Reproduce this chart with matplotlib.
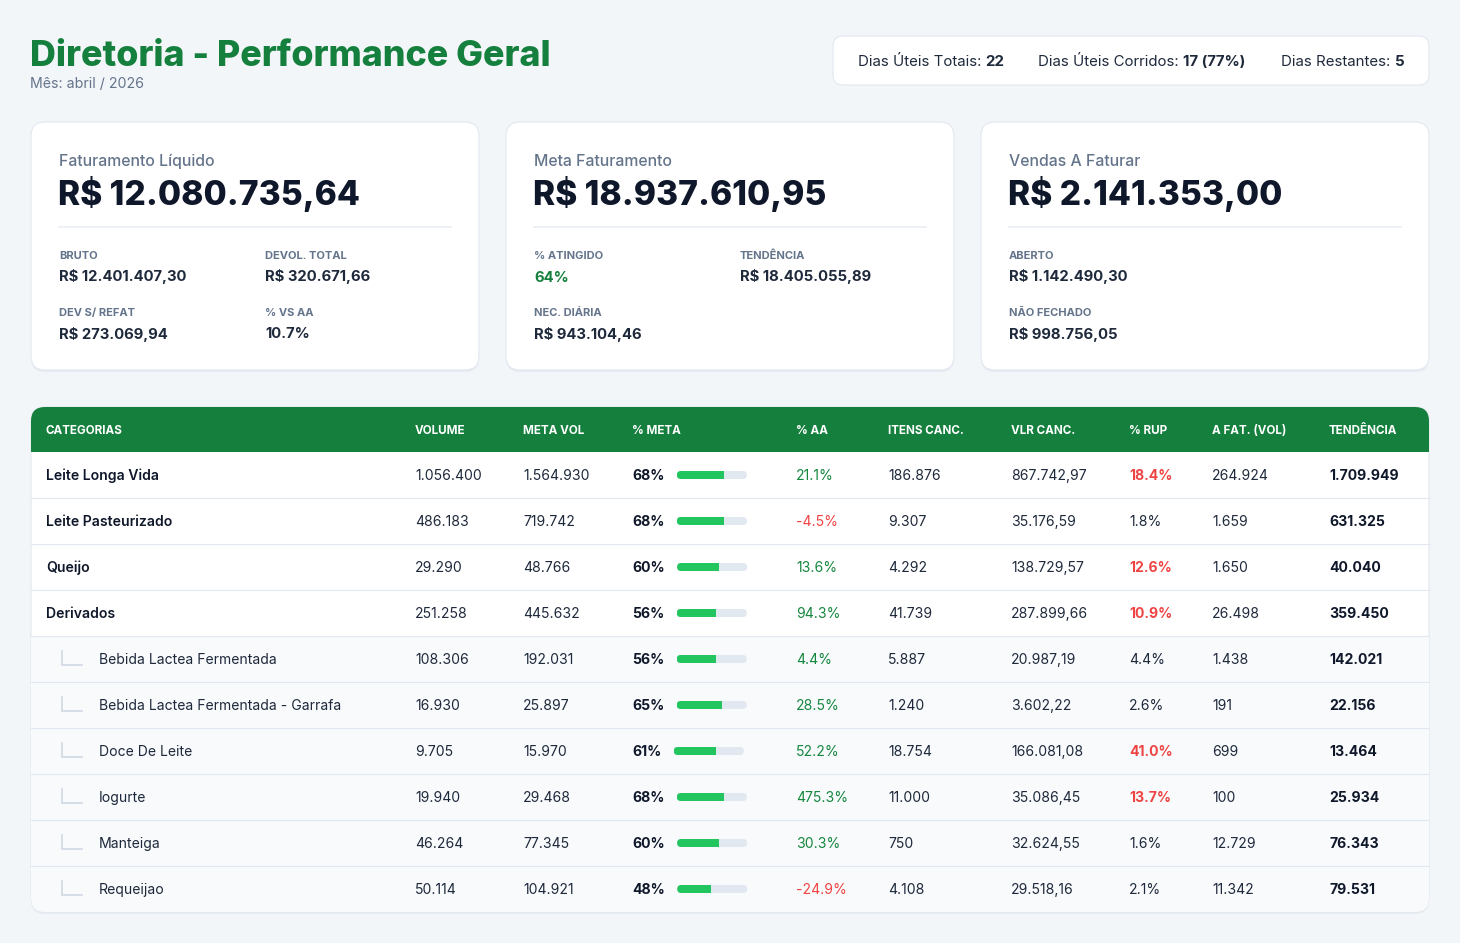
import matplotlib
matplotlib.use("Agg")
import matplotlib.pyplot as plt
from matplotlib.patches import FancyBboxPatch, Rectangle

plt.rcParams['font.family'] = ['Inter', 'DejaVu Sans']

# ---- dados do cabeçalho ----
titulo = "Diretoria - Performance Geral"
subtitulo = "Mês: abril / 2026"
dias_uteis_totais = 22
dias_corridos = 17
dias_corridos_pct = 77
dias_restantes = 5

# ---- cards ----
fat_liquido = 12080735.64
fat_bruto = 12401407.30
devol_total = 320671.66
dev_s_refat = 273069.94
pct_vs_aa = 10.7

meta_fat = 18937610.95
pct_atingido = 64
tendencia_fat = 18405055.89
nec_diaria = 943104.46

vendas_a_faturar = 2141353.00
aberto = 1142490.30
nao_fechado = 998756.05

# ---- tabela ----
colunas = ["CATEGORIAS", "VOLUME", "META VOL", "% META", "% AA", "ITENS CANC.",
           "VLR CANC.", "% RUP", "A FAT. (VOL)", "TENDÊNCIA"]
categorias = ["Leite Longa Vida", "Leite Pasteurizado", "Queijo", "Derivados",
              "Bebida Lactea Fermentada", "Bebida Lactea Fermentada - Garrafa",
              "Doce De Leite", "Iogurte", "Manteiga", "Requeijao"]
subcategoria = [False, False, False, False, True, True, True, True, True, True]
volume = [1056400, 486183, 29290, 251258, 108306, 16930, 9705, 19940, 46264, 50114]
meta_vol = [1564930, 719742, 48766, 445632, 192031, 25897, 15970, 29468, 77345, 104921]
pct_meta = [68, 68, 60, 56, 56, 65, 61, 68, 60, 48]
pct_aa = [21.1, -4.5, 13.6, 94.3, 4.4, 28.5, 52.2, 475.3, 30.3, -24.9]
itens_canc = [186876, 9307, 4292, 41739, 5887, 1240, 18754, 11000, 750, 4108]
vlr_canc = [867742.97, 35176.59, 138729.57, 287899.66, 20987.19, 3602.22,
            166081.08, 35086.45, 32624.55, 29518.16]
pct_rup = [18.4, 1.8, 12.6, 10.9, 4.4, 2.6, 41.0, 13.7, 1.6, 2.1]
a_fat_vol = [264924, 1659, 1650, 26498, 1438, 191, 699, 100, 12729, 11342]
tendencia = [1709949, 631325, 40040, 359450, 142021, 22156, 13464, 25934, 76343, 79531]

VERDE = '#15803d'
VERDE_AA = '#16873f'
VERMELHO = '#ef4444'
ESCURO = '#0f172a'
TEXTO = '#1e293b'
CINZA = '#64748b'
BORDA = '#e2e8f0'


def fmt_int(v):
    return f"{v:,}".replace(",", ".")


def fmt_brl(v):
    s = f"{v:,.2f}"
    return s.replace(",", "X").replace(".", ",").replace("X", ".")


def caixa(ax, x, y, w, h, r=14, fc='white', ec=BORDA, lw=0.8, z=1, sombra=True):
    if sombra:
        ax.add_patch(FancyBboxPatch((x, y + 2), w, h, boxstyle=f"round,pad=0,rounding_size={r}",
                                    fc='#e6ebf1', ec='none', zorder=z - 0.1))
    p = FancyBboxPatch((x, y), w, h, boxstyle=f"round,pad=0,rounding_size={r}",
                       fc=fc, ec=ec, lw=lw, zorder=z)
    ax.add_patch(p)
    return p


fig = plt.figure(figsize=(14.6, 9.43), dpi=100, facecolor='#f3f6f9')
ax = fig.add_axes([0, 0, 1, 1])
ax.set_xlim(0, 1460)
ax.set_ylim(943, 0)
ax.axis('off')
renderer = fig.canvas.get_renderer()


def largura(t):
    return t.get_window_extent(renderer).width


# titulo
ax.text(30, 65.5, titulo, fontsize=25.8, weight='heavy', color=VERDE, va='baseline')
ax.text(30, 87.5, subtitulo, fontsize=10.2, color=CINZA, va='baseline')

# caixa de dias
caixa(ax, 833, 36, 596, 49, r=10, sombra=False)
dias = [("Dias Úteis Totais: ", str(dias_uteis_totais), 858),
        ("Dias Úteis Corridos: ", f"{dias_corridos} ({dias_corridos_pct}%)", 1038),
        ("Dias Restantes: ", str(dias_restantes), 1281)]
for rot, val, x in dias:
    t = ax.text(x, 65.5, rot, fontsize=10.8, color=TEXTO, va='baseline', zorder=3)
    ax.text(x + largura(t), 65.5, val, fontsize=10.8, weight='bold', color=TEXTO,
            va='baseline', zorder=3)

# cards
cards = [
    ("Faturamento Líquido", fat_liquido,
     [("BRUTO", "R$ " + fmt_brl(fat_bruto), TEXTO), ("DEVOL. TOTAL", "R$ " + fmt_brl(devol_total), TEXTO),
      ("DEV S/ REFAT", "R$ " + fmt_brl(dev_s_refat), TEXTO), ("% VS AA", f"{pct_vs_aa:.1f}%", TEXTO)]),
    ("Meta Faturamento", meta_fat,
     [("% ATINGIDO", f"{pct_atingido}%", VERDE), ("TENDÊNCIA", "R$ " + fmt_brl(tendencia_fat), TEXTO),
      ("NEC. DIÁRIA", "R$ " + fmt_brl(nec_diaria), TEXTO)]),
    ("Vendas A Faturar", vendas_a_faturar,
     [("ABERTO", "R$ " + fmt_brl(aberto), TEXTO), None,
      ("NÃO FECHADO", "R$ " + fmt_brl(nao_fechado), TEXTO)]),
]
for i, (rot, val, itens) in enumerate(cards):
    x0 = 31 + i * 475
    caixa(ax, x0, 122, 448, 248)
    ax.text(x0 + 28, 166, rot, fontsize=11.4, weight='medium', color=CINZA, va='baseline', zorder=3)
    ax.text(x0 + 27, 204.5, "R$ " + fmt_brl(val), fontsize=24.2, weight='heavy', color=ESCURO,
            va='baseline', zorder=3)
    ax.plot([x0 + 28, x0 + 420], [227, 227], color='#edf1f5', lw=1.4, zorder=3)
    for k, it in enumerate(itens):
        if it is None:
            continue
        lx = x0 + 28 + (k % 2) * 206
        ly = 259 + (k // 2) * 57
        ax.text(lx, ly, it[0], fontsize=8, weight='bold', color=CINZA, va='baseline', zorder=3)
        ax.text(lx, ly + 22.5, it[1], fontsize=10.7, weight='bold', color=it[2], va='baseline', zorder=3)

# tabela
tx, ty, tw = 31, 407, 1398
hh, rh = 45, 46
th = hh + rh * len(categorias)
borda_tab = caixa(ax, tx, ty, tw, th, r=14, fc='white', ec=BORDA, z=1)
col_x = [46, 415, 523, 632, 796, 888, 1011, 1129, 1212, 1329]

cab = Rectangle((tx, ty), tw, hh, fc=VERDE, ec='none', zorder=1.5)
ax.add_patch(cab)
cab.set_clip_path(borda_tab)
for c, x in zip(colunas, col_x):
    ax.text(x, ty + 27, c, fontsize=8.4, weight='bold', color='white', va='baseline', zorder=3)

for i in range(len(categorias)):
    y0 = ty + hh + i * rh
    cy = y0 + rh / 2
    bl = cy + 5
    if subcategoria[i]:
        fundo = Rectangle((tx, y0), tw, rh, fc='#f8fafc', ec='none', zorder=1.5)
        ax.add_patch(fundo)
        fundo.set_clip_path(borda_tab)
        ax.plot([62, 62, 82], [cy - 8, cy + 5.5, cy + 5.5], color='#cbd5e1', lw=1.1,
                solid_joinstyle='miter', zorder=3)
        ax.text(99, bl, categorias[i], fontsize=10.1, color=TEXTO, va='baseline', zorder=3)
    else:
        ax.text(col_x[0], bl, categorias[i], fontsize=10.1, weight='semibold', color=ESCURO,
                va='baseline', zorder=3)
    if i < len(categorias) - 1:
        ax.plot([tx, tx + tw], [y0 + rh, y0 + rh], color=BORDA, lw=0.8, zorder=2)

    ax.text(col_x[1], bl, fmt_int(volume[i]), fontsize=10.1, color=TEXTO, va='baseline', zorder=3)
    ax.text(col_x[2], bl, fmt_int(meta_vol[i]), fontsize=10.1, color=TEXTO, va='baseline', zorder=3)

    t = ax.text(col_x[3], bl, f"{pct_meta[i]}%", fontsize=10.1, weight='bold', color=ESCURO,
                va='baseline', zorder=3)
    bx = col_x[3] + largura(t) + 12.5
    trilho = FancyBboxPatch((bx, cy - 4), 70, 8, boxstyle="round,pad=0,rounding_size=4",
                            fc=BORDA, ec='none', zorder=3)
    ax.add_patch(trilho)
    barra = Rectangle((bx, cy - 4), 70 * pct_meta[i] / 100, 8, fc='#22c55e', ec='none', zorder=3.5)
    ax.add_patch(barra)
    barra.set_clip_path(trilho)

    cor_aa = VERDE_AA if pct_aa[i] >= 0 else VERMELHO
    ax.text(col_x[4], bl, f"{pct_aa[i]:.1f}%", fontsize=10.1, color=cor_aa, va='baseline', zorder=3)
    ax.text(col_x[5], bl, fmt_int(itens_canc[i]), fontsize=10.1, color=TEXTO, va='baseline', zorder=3)
    ax.text(col_x[6], bl, fmt_brl(vlr_canc[i]), fontsize=10.1, color=TEXTO, va='baseline', zorder=3)
    alto = pct_rup[i] > 10
    ax.text(col_x[7], bl, f"{pct_rup[i]:.1f}%", fontsize=10.1, weight='bold' if alto else 'normal',
            color=VERMELHO if alto else TEXTO, va='baseline', zorder=3)
    ax.text(col_x[8], bl, fmt_int(a_fat_vol[i]), fontsize=10.1, color=TEXTO, va='baseline', zorder=3)
    ax.text(col_x[9], bl, fmt_int(tendencia[i]), fontsize=10.1, weight='bold', color=ESCURO,
            va='baseline', zorder=3)

fig.savefig("out.png", dpi=100, facecolor=fig.get_facecolor())
